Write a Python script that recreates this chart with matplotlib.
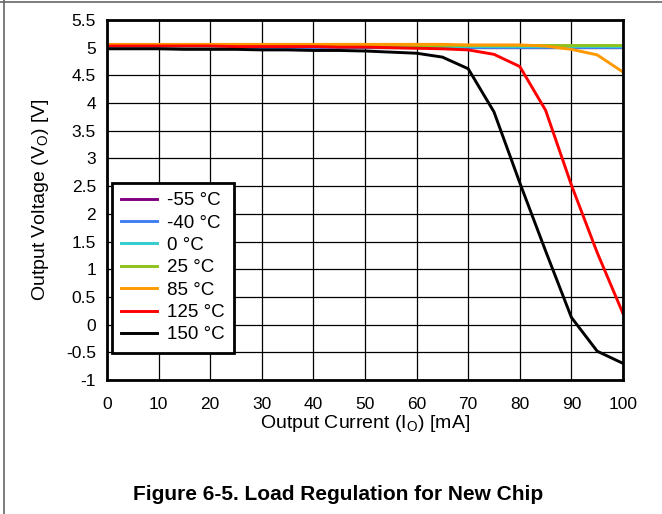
import matplotlib
matplotlib.use("Agg")
import matplotlib.pyplot as plt
from matplotlib.lines import Line2D

plt.rcParams['font.family'] = ['Liberation Sans', 'DejaVu Sans']
plt.rcParams['mathtext.fontset'] = 'custom'
plt.rcParams['mathtext.rm'] = 'Liberation Sans'

current_mA = [0, 5, 10, 15, 20, 25, 30, 35, 40, 45, 50, 55, 60, 65, 70, 75, 80, 85, 90, 95, 100]

v_m55 = [5.02] * 21
v_m40 = [5.02] * 21
v_0 = [5.03] * 21
v_25 = [5.05] * 21
v_85 = [5.06, 5.06, 5.06, 5.06, 5.06, 5.06, 5.06, 5.06, 5.06, 5.06, 5.06, 5.06, 5.06, 5.06, 5.05,
        5.05, 5.05, 5.03, 4.97, 4.87, 4.56]
v_125 = [5.03, 5.03, 5.03, 5.03, 5.03, 5.02, 5.02, 5.02, 5.02, 5.01, 5.01, 5.0, 4.99, 4.98, 4.96,
         4.88, 4.66, 3.87, 2.52, 1.30, 0.20]
v_150 = [4.98, 4.98, 4.98, 4.97, 4.97, 4.97, 4.96, 4.96, 4.95, 4.95, 4.94, 4.92, 4.90, 4.83, 4.62,
         3.84, 2.56, 1.33, 0.13, -0.48, -0.70]

series = [
    ("-55 °C", v_m55, "#800080"),
    ("-40 °C", v_m40, "#3f7ef2"),
    ("0 °C", v_0, "#33cccc"),
    ("25 °C", v_25, "#8dc21f"),
    ("85 °C", v_85, "#ff9900"),
    ("125 °C", v_125, "#ff0000"),
    ("150 °C", v_150, "#000000"),
]

x_ticks = list(range(0, 101, 10))
y_ticks = [-1, -0.5, 0, 0.5, 1, 1.5, 2, 2.5, 3, 3.5, 4, 4.5, 5, 5.5]

fig = plt.figure(figsize=(6.62, 5.14), dpi=100)
ax = fig.add_axes([107/662, 1-380/514, 516/662, 360/514])

for label, vals, color in series:
    ax.plot(current_mA, vals, color=color, lw=2.1, label=label, solid_joinstyle='miter')

ax.set_xlim(0, 100)
ax.set_ylim(-1, 5.5)
ax.set_xticks(x_ticks)
ax.set_yticks(y_ticks)
ax.set_xticklabels([f"{t:g}" for t in x_ticks])
ax.set_yticklabels([f"{t:g}" for t in y_ticks])
ax.tick_params(length=0, labelsize=12.5, colors='black')
ax.tick_params(axis='x', pad=12)
ax.tick_params(axis='y', pad=8)
ax.grid(True, color='black', lw=0.9)
ax.set_axisbelow(True)
for s in ax.spines.values():
    s.set_linewidth(2.0)
    s.set_color('black')

ax.set_xlabel(r'Output Current (I$_\mathregular{O}$) [mA]', fontsize=14)
ax.set_ylabel(r'Output Voltage (V$_\mathregular{O}$) [V]', fontsize=14)
ax.xaxis.set_label_coords(0.5, (380-424)/360)
ax.yaxis.set_label_coords((41-107)/516, 0.5)
ax.xaxis.label.set_va('center')
ax.yaxis.label.set_va('center')

leg = ax.legend(loc='upper left', bbox_to_anchor=(0.0097, 0.548), borderaxespad=0,
                fontsize=13.5, frameon=True, fancybox=False, framealpha=1,
                handlelength=1.9, labelspacing=0.28, handletextpad=0.55,
                borderpad=0.5)
leg.get_frame().set_edgecolor('black')
leg.get_frame().set_linewidth(2.0)

fig.text(338/662, 1-495/514, "Figure 6-5. Load Regulation for New Chip", ha='center', va='center',
         fontsize=15, fontweight='bold')

# figure border lines (top and left)
fig.add_artist(Line2D([0, 1], [1-1.5/514, 1-1.5/514], transform=fig.transFigure, color='#666666', lw=1.2))
fig.add_artist(Line2D([3.5/662, 3.5/662], [0, 1], transform=fig.transFigure, color='#666666', lw=1.2))

fig.savefig("out.png", dpi=100)
